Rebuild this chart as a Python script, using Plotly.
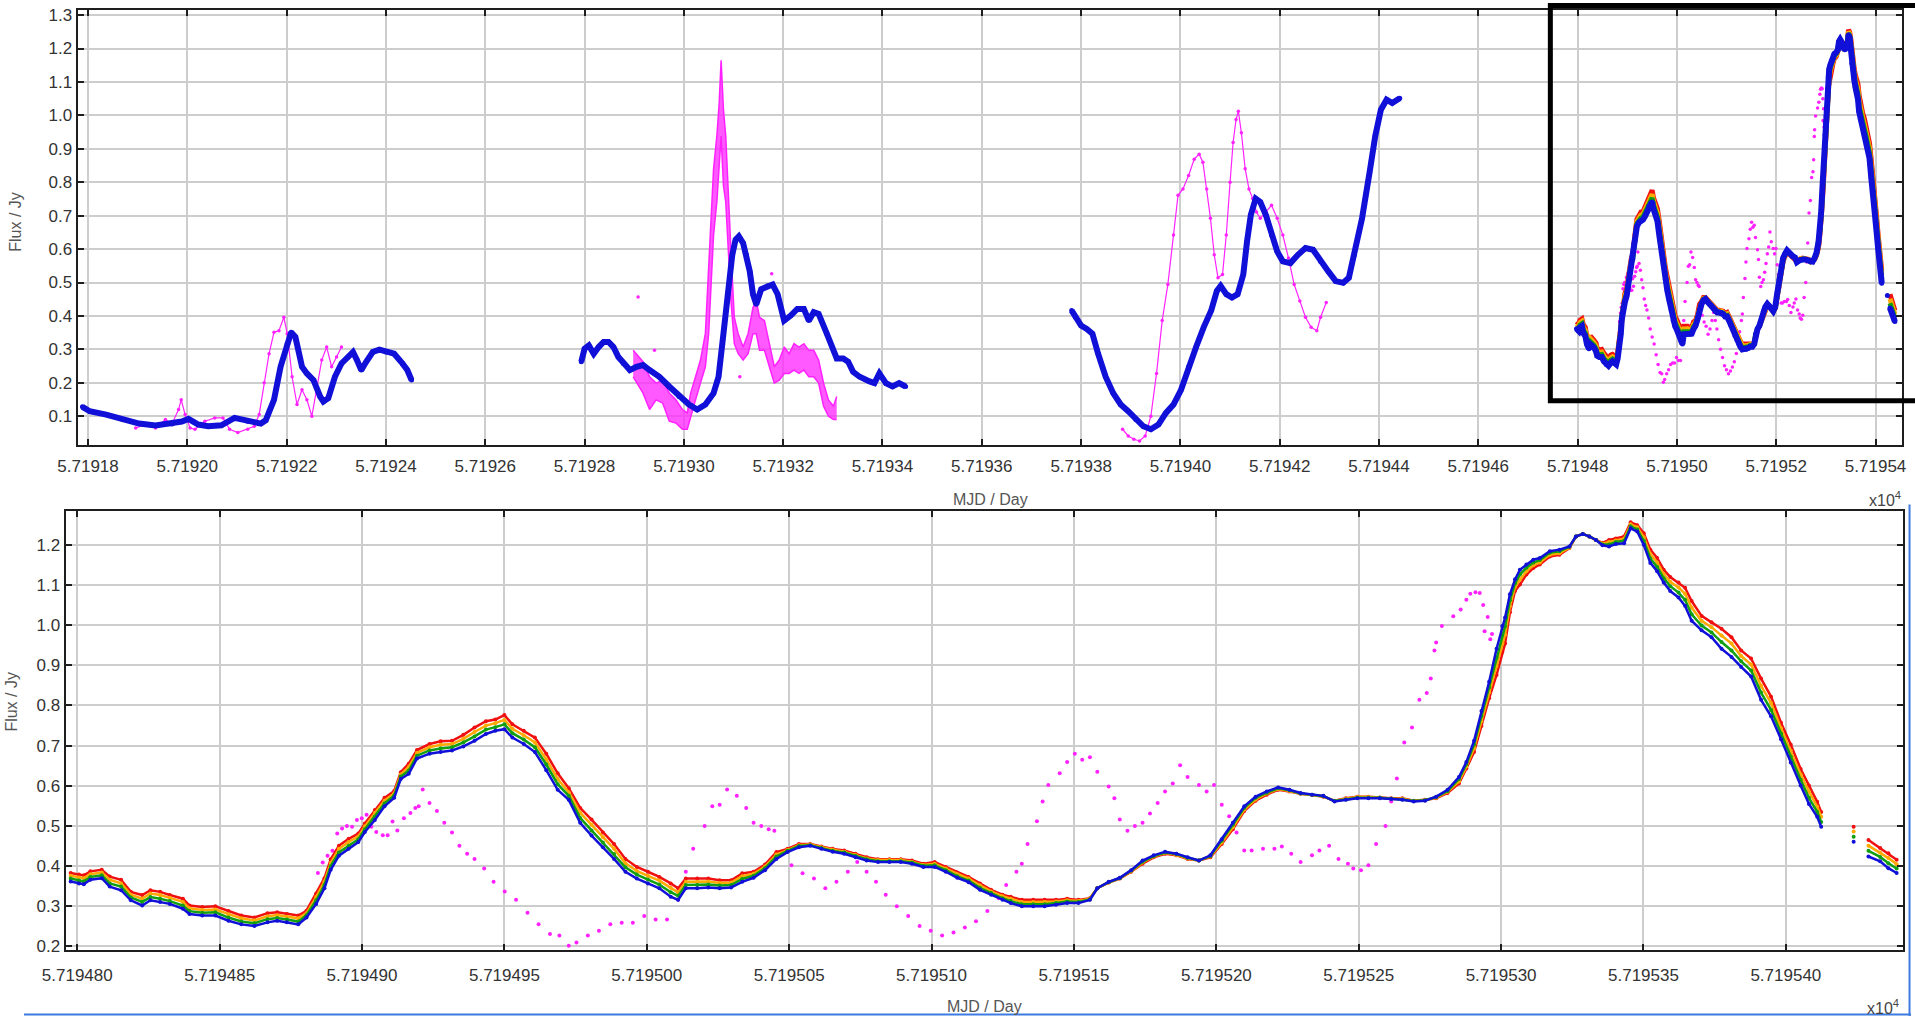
import plotly.graph_objects as go

# ================= DATA =================
# --- top panel, segment 1 (MJD day, Flux / Jy) ---
s1_mjd = [57191.7887, 57191.8033, 57191.8365, 57191.8696, 57191.9028, 57191.9359, 57191.9690, 57191.9889,
          57192.0022, 57192.0221, 57192.0420, 57192.0685, 57192.0950, 57192.1215, 57192.1480, 57192.1580,
          57192.1745, 57192.1878, 57192.2011, 57192.2090, 57192.2176, 57192.2309, 57192.2408, 57192.2541,
          57192.2674, 57192.2740, 57192.2839, 57192.2972, 57192.3104, 57192.3237, 57192.3336, 57192.3416,
          57192.3502, 57192.3602, 57192.3734, 57192.3867, 57192.3999, 57192.4165, 57192.4331, 57192.4430,
          57192.4516]
s1_blue = [0.128, 0.115, 0.105, 0.090, 0.078, 0.072, 0.077, 0.084, 0.092, 0.075, 0.070, 0.073, 0.095, 0.085,
           0.078, 0.088, 0.149, 0.248, 0.317, 0.351, 0.337, 0.248, 0.228, 0.208, 0.159, 0.144, 0.154, 0.218,
           0.258, 0.277, 0.292, 0.268, 0.238, 0.263, 0.292, 0.299, 0.292, 0.287, 0.258, 0.238, 0.208]
m1_mjd = [57191.8961, 57191.9160, 57191.9359, 57191.9558, 57191.9690, 57191.9823, 57191.9876, 57191.9956,
          57192.0055, 57192.0154, 57192.0353, 57192.0552, 57192.0718, 57192.0851, 57192.1016, 57192.1215,
          57192.1348, 57192.1447, 57192.1547, 57192.1646, 57192.1745, 57192.1845, 57192.1944, 57192.2011,
          57192.2110, 57192.2209, 57192.2309, 57192.2408, 57192.2508, 57192.2607, 57192.2707, 57192.2806,
          57192.2906, 57192.3005, 57192.3104]
m1_flux = [0.065, 0.075, 0.065, 0.090, 0.077, 0.120, 0.149, 0.105, 0.065, 0.061, 0.085, 0.095, 0.095, 0.061,
           0.051, 0.061, 0.070, 0.105, 0.200, 0.287, 0.351, 0.356, 0.396, 0.347, 0.218, 0.135, 0.179, 0.149,
           0.100, 0.179, 0.268, 0.307, 0.248, 0.277, 0.307]

# --- top panel, segment 2 ---
s2_mjd = [57192.7934, 57192.8000, 57192.8086, 57192.8185, 57192.8284, 57192.8383, 57192.8483, 57192.8582,
          57192.8681, 57192.8780, 57192.8912, 57192.9045, 57192.9177, 57192.9309, 57192.9507, 57192.9706,
          57192.9904, 57193.0103, 57193.0268, 57193.0433, 57193.0598, 57193.0698, 57193.0797, 57193.0896,
          57193.0975, 57193.1041, 57193.1107, 57193.1193, 57193.1260, 57193.1326, 57193.1392, 57193.1458,
          57193.1557, 57193.1689, 57193.1788, 57193.1888, 57193.2020, 57193.2152, 57193.2284, 57193.2417,
          57193.2516, 57193.2615, 57193.2714, 57193.2879, 57193.3078, 57193.3210, 57193.3309, 57193.3408,
          57193.3540, 57193.3739, 57193.3838, 57193.3937, 57193.4069, 57193.4202, 57193.4334, 57193.4466]
s2_blue = [0.263, 0.302, 0.312, 0.287, 0.307, 0.322, 0.322, 0.307, 0.277, 0.258, 0.238, 0.248, 0.253, 0.238,
           0.218, 0.189, 0.159, 0.135, 0.120, 0.135, 0.169, 0.218, 0.347, 0.475, 0.583, 0.628, 0.638, 0.618,
           0.583, 0.534, 0.465, 0.435, 0.480, 0.490, 0.494, 0.465, 0.386, 0.401, 0.421, 0.421, 0.386, 0.411,
           0.406, 0.347, 0.273, 0.273, 0.263, 0.233, 0.218, 0.204, 0.199, 0.228, 0.199, 0.189, 0.199, 0.189]
m2_mjd = [57192.8979, 57192.9177, 57192.9309, 57192.9441, 57192.9574, 57192.9706, 57192.9838, 57192.9970,
          57193.0069, 57193.0136, 57193.0235, 57193.0334, 57193.0433, 57193.0499, 57193.0552, 57193.0598,
          57193.0664, 57193.0711, 57193.0750, 57193.0797, 57193.0843, 57193.0896, 57193.0949, 57193.1015,
          57193.1094, 57193.1193, 57193.1293, 57193.1392, 57193.1458, 57193.1524, 57193.1623, 57193.1722,
          57193.1821, 57193.1921, 57193.2020, 57193.2119, 57193.2218, 57193.2317, 57193.2417, 57193.2516,
          57193.2615, 57193.2714, 57193.2813, 57193.2912, 57193.3012, 57193.3078]
m2_hi = [0.297, 0.263, 0.218, 0.199, 0.208, 0.169, 0.149, 0.120, 0.110, 0.169, 0.218, 0.268, 0.347, 0.544,
         0.692, 0.840, 0.938, 1.037, 1.165, 1.017, 0.938, 0.741, 0.593, 0.396, 0.347, 0.307, 0.347, 0.425,
         0.445, 0.396, 0.386, 0.317, 0.248, 0.268, 0.307, 0.287, 0.317, 0.307, 0.317, 0.297, 0.297, 0.268,
         0.199, 0.149, 0.130, 0.159]
m2_lo = [0.218, 0.169, 0.120, 0.149, 0.139, 0.085, 0.080, 0.061, 0.061, 0.100, 0.149, 0.199, 0.248, 0.347,
         0.494, 0.642, 0.741, 0.840, 0.938, 0.790, 0.741, 0.593, 0.445, 0.317, 0.287, 0.268, 0.287, 0.347,
         0.347, 0.297, 0.297, 0.248, 0.199, 0.208, 0.228, 0.228, 0.238, 0.228, 0.238, 0.218, 0.218, 0.199,
         0.130, 0.100, 0.090, 0.090]
m2_stray_mjd = [57192.9078, 57192.9408, 57193.1127, 57193.1769]
m2_stray_flux = [0.457, 0.297, 0.218, 0.526]

# --- top panel, segment 3 ---
s3_mjd = [57193.7810, 57193.7886, 57193.8000, 57193.8114, 57193.8228, 57193.8342, 57193.8494, 57193.8646,
          57193.8797, 57193.8949, 57193.9101, 57193.9253, 57193.9405, 57193.9557, 57193.9709, 57193.9861,
          57194.0013, 57194.0165, 57194.0316, 57194.0468, 57194.0620, 57194.0734, 57194.0810, 57194.0924,
          57194.1038, 57194.1152, 57194.1266, 57194.1342, 57194.1418, 57194.1516, 57194.1608, 57194.1721,
          57194.1835, 57194.1949, 57194.2063, 57194.2215, 57194.2367, 57194.2519, 57194.2671, 57194.2823,
          57194.2975, 57194.3127, 57194.3278, 57194.3392, 57194.3506, 57194.3658, 57194.3810, 57194.3924,
          57194.4038, 57194.4152, 57194.4266, 57194.4417]
s3_blue = [0.416, 0.396, 0.371, 0.361, 0.347, 0.287, 0.218, 0.169, 0.135, 0.115, 0.090, 0.070, 0.061, 0.075,
           0.110, 0.135, 0.179, 0.248, 0.307, 0.366, 0.416, 0.475, 0.490, 0.465, 0.455, 0.465, 0.524, 0.623,
           0.702, 0.751, 0.741, 0.702, 0.642, 0.593, 0.563, 0.558, 0.583, 0.603, 0.598, 0.563, 0.534, 0.504,
           0.499, 0.514, 0.583, 0.692, 0.830, 0.938, 1.017, 1.047, 1.037, 1.051]
m3_mjd = [57193.8835, 57193.8949, 57193.9063, 57193.9177, 57193.9291, 57193.9405, 57193.9519, 57193.9633,
          57193.9747, 57193.9861, 57193.9952, 57194.0051, 57194.0165, 57194.0278, 57194.0377, 57194.0453,
          57194.0529, 57194.0605, 57194.0681, 57194.0757, 57194.0848, 57194.0924, 57194.1000, 57194.1061,
          57194.1121, 57194.1167, 57194.1228, 57194.1304, 57194.1380, 57194.1456, 57194.1532, 57194.1608,
          57194.1721, 57194.1835, 57194.1949, 57194.2063, 57194.2177, 57194.2291, 57194.2405, 57194.2519,
          57194.2633, 57194.2747, 57194.2823, 57194.2937]
m3_flux = [0.061, 0.041, 0.031, 0.026, 0.041, 0.100, 0.228, 0.386, 0.494, 0.642, 0.761, 0.780, 0.820, 0.869,
           0.884, 0.860, 0.780, 0.692, 0.583, 0.514, 0.524, 0.642, 0.800, 0.919, 0.988, 1.012, 0.948, 0.840,
           0.780, 0.751, 0.711, 0.692, 0.711, 0.731, 0.692, 0.642, 0.573, 0.494, 0.445, 0.396, 0.366, 0.356,
           0.396, 0.440]

# --- segment 4 (zoomed in bottom panel, also shown in top panel) ---
s4_mjd = [57194.7977, 57194.8006, 57194.8023, 57194.8046, 57194.8086, 57194.8114, 57194.8154, 57194.8188,
          57194.8228, 57194.8257, 57194.8291, 57194.8325, 57194.8371, 57194.8394, 57194.8439, 57194.8485,
          57194.8531, 57194.8576, 57194.8622, 57194.8668, 57194.8702, 57194.8736, 57194.8776, 57194.8805,
          57194.8839, 57194.8868, 57194.8890, 57194.8919, 57194.8953, 57194.8987, 57194.9010, 57194.9045,
          57194.9079, 57194.9113, 57194.9136, 57194.9164, 57194.9193, 57194.9237, 57194.9276, 57194.9316,
          57194.9356, 57194.9395, 57194.9435, 57194.9468, 57194.9500, 57194.9528, 57194.9568, 57194.9607,
          57194.9647, 57194.9687, 57194.9726, 57194.9766, 57194.9806, 57194.9846, 57194.9885, 57194.9925,
          57194.9965, 57195.0004, 57195.0044, 57195.0084, 57195.0110, 57195.0137, 57195.0177, 57195.0216,
          57195.0256, 57195.0296, 57195.0335, 57195.0375, 57195.0415, 57195.0455, 57195.0494, 57195.0534,
          57195.0574, 57195.0613, 57195.0653, 57195.0693, 57195.0733, 57195.0772, 57195.0812, 57195.0852,
          57195.0892, 57195.0931, 57195.0971, 57195.1011, 57195.1050, 57195.1090, 57195.1130, 57195.1170,
          57195.1209, 57195.1249, 57195.1278, 57195.1317, 57195.1357, 57195.1397, 57195.1437, 57195.1476,
          57195.1516, 57195.1556, 57195.1582, 57195.1622, 57195.1661, 57195.1701, 57195.1741, 57195.1780,
          57195.1820, 57195.1860, 57195.1899, 57195.1939, 57195.1979, 57195.2019, 57195.2058, 57195.2098,
          57195.2138, 57195.2177, 57195.2217, 57195.2257, 57195.2296, 57195.2336, 57195.2376, 57195.2415,
          57195.2455, 57195.2495, 57195.2534, 57195.2574, 57195.2614, 57195.2653, 57195.2693, 57195.2733,
          57195.2772, 57195.2812, 57195.2852, 57195.2878, 57195.2905, 57195.2931, 57195.2958, 57195.2984,
          57195.3004, 57195.3014, 57195.3031, 57195.3049, 57195.3066, 57195.3089, 57195.3113, 57195.3136,
          57195.3171, 57195.3205, 57195.3240, 57195.3263, 57195.3287, 57195.3310, 57195.3333, 57195.3356,
          57195.3379, 57195.3403, 57195.3432, 57195.3455, 57195.3478, 57195.3501, 57195.3524, 57195.3548,
          57195.3571, 57195.3594, 57195.3623, 57195.3646, 57195.3669, 57195.3704, 57195.3739, 57195.3774,
          57195.3809, 57195.3843, 57195.3878, 57195.3913, 57195.3948, 57195.3983, 57195.4017, 57195.4052,
          57195.4081, 57195.4110, 57195.4124, None, 57195.4238, None, 57195.4290, 57195.4331, 57195.4360,
          57195.4389]
s4_blue = [0.362, 0.357, 0.355, 0.366, 0.370, 0.349, 0.340, 0.315, 0.302, 0.315, 0.311, 0.306, 0.294, 0.281,
           0.277, 0.277, 0.264, 0.255, 0.251, 0.260, 0.264, 0.260, 0.255, 0.272, 0.306, 0.345, 0.391, 0.426,
           0.443, 0.460, 0.485, 0.515, 0.549, 0.570, 0.617, 0.630, 0.668, 0.680, 0.684, 0.688, 0.698, 0.712,
           0.729, 0.737, 0.741, 0.720, 0.704, 0.684, 0.639, 0.590, 0.565, 0.508, 0.476, 0.447, 0.418, 0.386,
           0.369, 0.357, 0.345, 0.324, 0.316, 0.345, 0.345, 0.347, 0.345, 0.347, 0.361, 0.371, 0.390, 0.418,
           0.435, 0.447, 0.451, 0.443, 0.436, 0.431, 0.422, 0.414, 0.410, 0.410, 0.410, 0.406, 0.398, 0.398,
           0.386, 0.371, 0.360, 0.341, 0.329, 0.316, 0.308, 0.300, 0.300, 0.300, 0.304, 0.308, 0.308, 0.316,
           0.345, 0.361, 0.371, 0.390, 0.414, 0.427, 0.436, 0.431, 0.422, 0.414, 0.427, 0.467, 0.508, 0.549,
           0.573, 0.586, 0.596, 0.590, 0.582, 0.578, 0.575, 0.561, 0.565, 0.569, 0.569, 0.569, 0.567, 0.565,
           0.561, 0.563, 0.573, 0.590, 0.622, 0.659, 0.712, 0.786, 0.859, 0.941, 0.998, 1.019, 1.077, 1.114,
           1.138, 1.151, 1.163, 1.167, 1.184, 1.188, 1.196, 1.221, 1.227, 1.221, 1.212, 1.199, 1.196, 1.202,
           1.204, 1.241, 1.233, 1.200, 1.155, 1.134, 1.106, 1.085, 1.069, 1.048, 1.011, 0.987, 0.970, 0.941,
           0.921, 0.896, 0.872, 0.814, 0.773, 0.716, 0.658, 0.601, 0.555, 0.523, 0.498, None, 0.461, None,
           0.424, 0.412, 0.395, 0.383]
s4_green = [0.369, 0.364, 0.362, 0.373, 0.377, 0.357, 0.349, 0.322, 0.311, 0.323, 0.319, 0.313, 0.302, 0.288,
            0.284, 0.285, 0.272, 0.262, 0.258, 0.268, 0.271, 0.267, 0.262, 0.278, 0.315, 0.353, 0.400, 0.434,
            0.451, 0.467, 0.492, 0.523, 0.556, 0.576, 0.623, 0.638, 0.675, 0.688, 0.693, 0.696, 0.708, 0.723,
            0.740, 0.746, 0.753, 0.731, 0.715, 0.696, 0.653, 0.604, 0.575, 0.520, 0.489, 0.459, 0.430, 0.397,
            0.379, 0.367, 0.354, 0.335, 0.326, 0.353, 0.353, 0.354, 0.352, 0.353, 0.368, 0.376, 0.395, 0.424,
            0.438, 0.450, 0.452, 0.445, 0.438, 0.434, 0.425, 0.417, 0.412, 0.412, 0.412, 0.409, 0.401, 0.402,
            0.390, 0.375, 0.364, 0.346, 0.333, 0.320, 0.313, 0.305, 0.305, 0.305, 0.308, 0.312, 0.311, 0.317,
            0.345, 0.360, 0.370, 0.389, 0.411, 0.425, 0.434, 0.430, 0.421, 0.414, 0.425, 0.463, 0.503, 0.545,
            0.570, 0.583, 0.594, 0.589, 0.581, 0.578, 0.574, 0.562, 0.566, 0.570, 0.570, 0.570, 0.568, 0.566,
            0.562, 0.564, 0.572, 0.587, 0.617, 0.654, 0.703, 0.774, 0.845, 0.919, 0.976, 0.997, 1.062, 1.104,
            1.126, 1.143, 1.156, 1.162, 1.180, 1.184, 1.195, 1.221, 1.227, 1.221, 1.212, 1.201, 1.201, 1.207,
            1.210, 1.246, 1.238, 1.210, 1.166, 1.145, 1.117, 1.097, 1.081, 1.063, 1.027, 0.999, 0.982, 0.958,
            0.937, 0.910, 0.887, 0.832, 0.789, 0.730, 0.673, 0.615, 0.570, 0.535, 0.510, None, 0.473, None,
            0.438, 0.423, 0.407, 0.394]
s4_orange = [0.376, 0.372, 0.370, 0.380, 0.384, 0.366, 0.357, 0.329, 0.319, 0.332, 0.328, 0.321, 0.311, 0.295,
             0.291, 0.292, 0.280, 0.270, 0.265, 0.275, 0.278, 0.274, 0.270, 0.283, 0.323, 0.362, 0.408, 0.443,
             0.460, 0.474, 0.499, 0.532, 0.563, 0.581, 0.628, 0.647, 0.682, 0.696, 0.702, 0.704, 0.717, 0.734,
             0.750, 0.756, 0.764, 0.742, 0.726, 0.708, 0.666, 0.617, 0.584, 0.533, 0.503, 0.472, 0.443, 0.407,
             0.388, 0.376, 0.364, 0.346, 0.335, 0.361, 0.361, 0.362, 0.358, 0.359, 0.375, 0.381, 0.399, 0.429,
             0.440, 0.452, 0.454, 0.447, 0.441, 0.436, 0.428, 0.419, 0.415, 0.415, 0.415, 0.411, 0.403, 0.406,
             0.394, 0.380, 0.369, 0.352, 0.337, 0.325, 0.319, 0.311, 0.311, 0.311, 0.312, 0.315, 0.313, 0.319,
             0.345, 0.360, 0.370, 0.387, 0.409, 0.424, 0.433, 0.428, 0.419, 0.414, 0.424, 0.459, 0.497, 0.541,
             0.566, 0.581, 0.592, 0.587, 0.581, 0.577, 0.574, 0.562, 0.568, 0.572, 0.572, 0.570, 0.568, 0.568,
             0.562, 0.564, 0.570, 0.585, 0.611, 0.648, 0.693, 0.761, 0.832, 0.898, 0.955, 0.976, 1.047, 1.095,
             1.113, 1.134, 1.149, 1.156, 1.175, 1.179, 1.193, 1.221, 1.227, 1.221, 1.212, 1.203, 1.207, 1.211,
             1.215, 1.251, 1.244, 1.219, 1.177, 1.156, 1.127, 1.108, 1.094, 1.078, 1.044, 1.011, 0.995, 0.974,
             0.954, 0.923, 0.902, 0.849, 0.806, 0.743, 0.688, 0.628, 0.586, 0.548, 0.523, None, 0.486, None,
             0.451, 0.434, 0.420, 0.405]
s4_red = [0.383, 0.379, 0.377, 0.387, 0.391, 0.374, 0.366, 0.336, 0.328, 0.340, 0.336, 0.328, 0.319, 0.302,
          0.298, 0.300, 0.288, 0.277, 0.272, 0.283, 0.285, 0.281, 0.277, 0.289, 0.332, 0.370, 0.417, 0.451,
          0.468, 0.481, 0.506, 0.540, 0.570, 0.587, 0.634, 0.655, 0.689, 0.704, 0.711, 0.712, 0.727, 0.745,
          0.761, 0.765, 0.776, 0.753, 0.737, 0.720, 0.680, 0.631, 0.594, 0.545, 0.516, 0.484, 0.455, 0.418,
          0.398, 0.386, 0.373, 0.357, 0.345, 0.369, 0.369, 0.369, 0.365, 0.365, 0.382, 0.386, 0.404, 0.435,
          0.443, 0.455, 0.455, 0.449, 0.443, 0.439, 0.431, 0.422, 0.417, 0.417, 0.417, 0.414, 0.406, 0.410,
          0.398, 0.384, 0.373, 0.357, 0.341, 0.329, 0.324, 0.316, 0.316, 0.316, 0.316, 0.319, 0.316, 0.320,
          0.345, 0.359, 0.369, 0.386, 0.406, 0.422, 0.431, 0.427, 0.418, 0.414, 0.422, 0.455, 0.492, 0.537,
          0.563, 0.578, 0.590, 0.586, 0.580, 0.577, 0.573, 0.563, 0.569, 0.573, 0.573, 0.571, 0.569, 0.569,
          0.563, 0.565, 0.569, 0.582, 0.606, 0.643, 0.684, 0.749, 0.818, 0.876, 0.933, 0.954, 1.032, 1.085,
          1.101, 1.126, 1.142, 1.151, 1.171, 1.175, 1.192, 1.221, 1.227, 1.221, 1.212, 1.205, 1.212, 1.216,
          1.221, 1.256, 1.249, 1.229, 1.188, 1.167, 1.138, 1.120, 1.106, 1.093, 1.060, 1.023, 1.007, 0.991,
          0.970, 0.937, 0.917, 0.867, 0.822, 0.757, 0.703, 0.642, 0.601, 0.560, 0.535, None, 0.498, None,
          0.465, 0.445, 0.432, 0.416]
m4_mjd = [57194.8845, 57194.8862, 57194.8879, 57194.8896, 57194.8913, 57194.8930, 57194.8947, 57194.8965,
          57194.8982, 57194.8999, 57194.9016, 57194.9033, 57194.9050, 57194.9073, 57194.9090, 57194.9107,
          57194.9124, 57194.9147, 57194.9170, 57194.9187, 57194.9199, 57194.9213, 57194.9237, 57194.9263,
          57194.9289, 57194.9316, 57194.9342, 57194.9369, 57194.9395, 57194.9429, 57194.9462, 57194.9501,
          57194.9541, 57194.9581, 57194.9620, 57194.9660, 57194.9693, 57194.9726, 57194.9753, 57194.9793,
          57194.9832, 57194.9872, 57194.9912, 57194.9951, 57194.9991, 57195.0031, 57195.0071, 57195.0110,
          57195.0137, 57195.0163, 57195.0203, 57195.0230, 57195.0256, 57195.0282, 57195.0316, 57195.0349,
          57195.0375, 57195.0402, 57195.0428, 57195.0448, 57195.0474, 57195.0508, 57195.0547, 57195.0587,
          57195.0627, 57195.0666, 57195.0706, 57195.0739, 57195.0772, 57195.0805, 57195.0839, 57195.0878,
          57195.0918, 57195.0958, 57195.0997, 57195.1037, 57195.1077, 57195.1117, 57195.1156, 57195.1196,
          57195.1236, 57195.1262, 57195.1298, 57195.1317, 57195.1337, 57195.1370, 57195.1390, 57195.1410,
          57195.1450, 57195.1476, 57195.1503, 57195.1529, 57195.1556, 57195.1582, 57195.1622, 57195.1642,
          57195.1661, 57195.1688, 57195.1714, 57195.1741, 57195.1767, 57195.1794, 57195.1820, 57195.1847,
          57195.1873, 57195.1899, 57195.1939, 57195.1966, 57195.1992, 57195.2019, 57195.2045, 57195.2071,
          57195.2098, 57195.2124, 57195.2164, 57195.2204, 57195.2230, 57195.2263, 57195.2296, 57195.2336,
          57195.2362, 57195.2396, 57195.2429, 57195.2462, 57195.2481, 57195.2508, 57195.2534, 57195.2561,
          57195.2594, 57195.2614, 57195.2634, 57195.2660, 57195.2687, 57195.2713, 57195.2739, 57195.2753,
          57195.2766, 57195.2772, 57195.2792, 57195.2832, 57195.2858, 57195.2878, 57195.2892, 57195.2910,
          57195.2925, 57195.2937, 57195.2942, 57195.2953, 57195.2962, 57195.2968]
m4_flux = [0.383, 0.409, 0.426, 0.438, 0.481, 0.494, 0.500, 0.498, 0.515, 0.519, 0.528, 0.498, 0.485, 0.477,
           0.477, 0.511, 0.489, 0.519, 0.532, 0.545, 0.549, 0.591, 0.557, 0.537, 0.508, 0.484, 0.451, 0.431,
           0.418, 0.394, 0.361, 0.337, 0.316, 0.284, 0.255, 0.231, 0.227, 0.202, 0.210, 0.227, 0.239, 0.255,
           0.259, 0.259, 0.276, 0.267, 0.267, 0.316, 0.386, 0.443, 0.500, 0.549, 0.553, 0.591, 0.575, 0.545,
           0.508, 0.500, 0.492, 0.488, 0.435, 0.402, 0.382, 0.369, 0.345, 0.361, 0.386, 0.410, 0.386, 0.361,
           0.329, 0.300, 0.276, 0.251, 0.239, 0.227, 0.235, 0.247, 0.263, 0.288, 0.320, 0.353, 0.386, 0.406,
           0.455, 0.512, 0.561, 0.602, 0.631, 0.659, 0.680, 0.665, 0.671, 0.635, 0.598, 0.569, 0.516, 0.488,
           0.500, 0.508, 0.531, 0.557, 0.586, 0.606, 0.651, 0.622, 0.602, 0.586, 0.602, 0.553, 0.524, 0.484,
           0.439, 0.439, 0.443, 0.443, 0.449, 0.431, 0.410, 0.427, 0.439, 0.451, 0.418, 0.406, 0.394, 0.390,
           0.402, 0.455, 0.500, 0.561, 0.618, 0.708, 0.745, 0.814, 0.831, 0.867, 0.937, 0.957, 0.998, 1.022,
           1.039, 1.063, 1.078, 1.082, 1.080, 1.050, 0.985, 1.020, 0.965, 0.978]

# --- axis ticks ---
top_xtick_vals = [57191.8, 57192.0, 57192.2, 57192.4, 57192.6, 57192.8, 57193.0, 57193.2, 57193.4, 57193.6,
                  57193.8, 57194.0, 57194.2, 57194.4, 57194.6, 57194.8, 57195.0, 57195.2, 57195.4]
top_xtick_text = ['5.71918', '5.71920', '5.71922', '5.71924', '5.71926', '5.71928', '5.71930', '5.71932',
                  '5.71934', '5.71936', '5.71938', '5.71940', '5.71942', '5.71944', '5.71946', '5.71948',
                  '5.71950', '5.71952', '5.71954']
bot_xtick_vals = [57194.80, 57194.85, 57194.90, 57194.95, 57195.00, 57195.05, 57195.10, 57195.15, 57195.20,
                  57195.25, 57195.30, 57195.35, 57195.40]
bot_xtick_text = ['5.719480', '5.719485', '5.719490', '5.719495', '5.719500', '5.719505', '5.719510',
                  '5.719515', '5.719520', '5.719525', '5.719530', '5.719535', '5.719540']
top_ytick_vals = [0.1, 0.2, 0.3, 0.4, 0.5, 0.6, 0.7, 0.8, 0.9, 1.0, 1.1, 1.2, 1.3]
bot_ytick_vals = [0.2, 0.3, 0.4, 0.5, 0.6, 0.7, 0.8, 0.9, 1.0, 1.1, 1.2]

# ================= STYLE =================
W, H = 1915, 1023
BLUE = '#1010d8'
RED = '#f01010'
ORANGE = '#ffaa00'
GREEN = '#12a012'
MAGENTA = '#ff22ff'
FONT = 'Liberation Sans, Arial, sans-serif'


def px(xp):
    return xp / W


def py(yp):
    return (H - yp) / H


fig = go.Figure()

# ---------------- top panel ----------------
fig.add_trace(go.Scatter(x=m2_mjd, y=m2_lo, mode='lines', line=dict(color=MAGENTA, width=1.5),
                         xaxis='x', yaxis='y', hoverinfo='skip'))
fig.add_trace(go.Scatter(x=m2_mjd, y=m2_hi, mode='lines', line=dict(color=MAGENTA, width=1.5),
                         fill='tonexty', fillcolor='rgba(255,34,255,0.75)', xaxis='x', yaxis='y'))
fig.add_trace(go.Scatter(x=m1_mjd + [None] + m3_mjd, y=m1_flux + [None] + m3_flux, mode='lines+markers',
                         line=dict(color=MAGENTA, width=1.2), marker=dict(color=MAGENTA, size=3.5),
                         xaxis='x', yaxis='y'))
fig.add_trace(go.Scatter(x=m2_stray_mjd + m4_mjd, y=m2_stray_flux + m4_flux, mode='markers',
                         marker=dict(color=MAGENTA, size=3.5), xaxis='x', yaxis='y'))
for col, ys in ((RED, s4_red), (ORANGE, s4_orange), (GREEN, s4_green)):
    fig.add_trace(go.Scatter(x=s4_mjd, y=ys, mode='lines', line=dict(color=col, width=5),
                             connectgaps=False, xaxis='x', yaxis='y'))
fig.add_trace(go.Scatter(x=s1_mjd + [None] + s2_mjd + [None] + s3_mjd + [None] + s4_mjd,
                         y=s1_blue + [None] + s2_blue + [None] + s3_blue + [None] + s4_blue,
                         mode='lines+markers', line=dict(color=BLUE, width=6), marker=dict(color=BLUE, size=5),
                         xaxis='x', yaxis='y'))

# ---------------- bottom panel ----------------
fig.add_trace(go.Scatter(x=m4_mjd, y=m4_flux, mode='markers', marker=dict(color=MAGENTA, size=4),
                         xaxis='x2', yaxis='y2'))
for col, ys in ((RED, s4_red), (ORANGE, s4_orange), (GREEN, s4_green), (BLUE, s4_blue)):
    fig.add_trace(go.Scatter(x=s4_mjd, y=ys, mode='lines+markers', line=dict(color=col, width=2.5),
                             marker=dict(color=col, size=4), xaxis='x2', yaxis='y2'))

axis_style = dict(showline=True, linecolor='#1e1e1e', linewidth=2, mirror='ticks', ticks='inside',
                  ticklen=6, tickwidth=2, tickcolor='#1e1e1e', showgrid=True, gridcolor='#cdcdcd',
                  gridwidth=2, zeroline=False,
                  tickfont=dict(family=FONT, size=17, color='#333333'))

fig.update_layout(
    width=W, height=H, margin=dict(l=0, r=0, t=0, b=0), showlegend=False,
    paper_bgcolor='white', plot_bgcolor='white',
    xaxis=dict(domain=[px(54.3), px(1906)], range=[57191.7788, 57195.4535], anchor='y',
               tickmode='array', tickvals=top_xtick_vals, ticktext=top_xtick_text,
               ticklabelstandoff=4, **axis_style),
    yaxis=dict(domain=[py(446), py(6)], range=[0.0133, 1.3154], anchor='x',
               tickmode='array', tickvals=top_ytick_vals, tickformat='.1f', **axis_style),
    xaxis2=dict(domain=[px(42.2), px(1906.5)], range=[57194.7959, 57195.4410], anchor='y2',
                tickmode='array', tickvals=bot_xtick_vals, ticktext=bot_xtick_text,
                ticklabelstandoff=9, **axis_style),
    yaxis2=dict(domain=[py(956), py(513)], range=[0.1919, 1.283], anchor='x2',
                tickmode='array', tickvals=bot_ytick_vals, tickformat='.1f', **axis_style),
)

title_font = dict(family=FONT, size=16, color='#555555')
# rotated titles: plotly anchors the unrotated box, so the centre is shifted by ~22 px
annotations = [
    dict(text='Flux / Jy', x=px(14 - 22), y=py(220), textangle=-90),
    dict(text='Flux / Jy', x=px(9 - 22), y=py(705), textangle=-90),
    dict(text='MJD / Day', x=px(981), y=py(501)),
    dict(text='MJD / Day', x=px(975), y=py(1013)),
]
for a in annotations:
    fig.add_annotation(xref='paper', yref='paper', showarrow=False, xanchor='center', yanchor='middle',
                       font=title_font, **a)
for xr, yc in ((1907, 500), (1905, 1014)):
    fig.add_annotation(text='x10<sup>4</sup>', xref='paper', yref='paper', x=px(xr), y=py(yc),
                       xanchor='right', yanchor='middle', showarrow=False,
                       font=dict(family=FONT, size=16, color='#444444'))

# black frame marking the zoomed region in the top panel
fig.add_shape(type='rect', xref='paper', yref='paper', x0=px(1549), x1=px(1960), y0=py(401), y1=py(1.5),
              line=dict(color='black', width=5), layer='above')
# blue window border at bottom-right
fig.add_shape(type='line', xref='paper', yref='paper', x0=px(1913.5), x1=px(1913.5), y0=py(506), y1=py(1023),
              line=dict(color='#3d7be0', width=2), layer='above')
fig.add_shape(type='line', xref='paper', yref='paper', x0=0, x1=1, y0=py(1021.5), y1=py(1021.5),
              line=dict(color='#3d7be0', width=2), layer='above')

fig.write_html("out.html", config={'displayModeBar': False},
               post_script="document.body.style.margin='0';document.body.style.overflow='hidden';")
